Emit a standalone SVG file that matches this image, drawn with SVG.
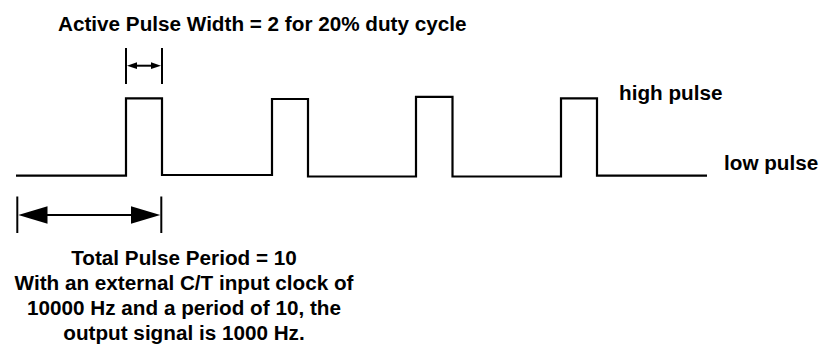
<svg xmlns="http://www.w3.org/2000/svg" width="820" height="348" viewBox="0 0 820 348">
<style>
  .t { font-family: "Liberation Sans", Arial, sans-serif; font-weight: bold; font-size: 20.7px; fill: #000; }
  .w { fill: none; stroke: #000; stroke-width: 2.2; stroke-linejoin: miter; }
  .d { fill: none; stroke: #000; stroke-width: 2; }
  .h { fill: #000; stroke: none; }
</style>
<rect width="820" height="348" fill="#fff"/>
<g id="waveform">
  <polyline class="w" points="16,175.7 126,175.7 126,98.3 162,98.3 162,175 272,175 272,99 308,99 308,176.5 416,176.5 416,96.8 452.5,96.8 452.5,176.5 561,176.5 561,98.3 597,98.3 597,175.7 707,175.7"/>
</g>
<g id="connectors">
  <g id="active-width">
    <line class="d" x1="126" y1="48" x2="126" y2="84"/>
    <line class="d" x1="162" y1="48" x2="162" y2="84"/>
    <line class="d" x1="135" y1="65.7" x2="153" y2="65.7"/>
    <polygon class="h" points="127,65.7 137,62.3 137,69.1"/>
    <polygon class="h" points="161,65.7 151,62.3 151,69.1"/>
  </g>
  <g id="total-period">
    <line class="d" x1="17.3" y1="196.5" x2="17.3" y2="233"/>
    <line class="d" x1="161.3" y1="196.5" x2="161.3" y2="233"/>
    <line class="d" x1="45" y1="215" x2="133" y2="215"/>
    <polygon class="h" points="18.3,215 47.5,206.2 47.5,223.8"/>
    <polygon class="h" points="160.3,215 131,206.2 131,223.8"/>
  </g>
</g>
<g id="title-label">
  <text class="t" x="58" y="31">Active Pulse Width = 2 for 20% duty cycle</text>
</g>
<g id="high-label">
  <text class="t" x="619" y="100">high pulse</text>
</g>
<g id="low-label">
  <text class="t" x="724" y="170">low pulse</text>
</g>
<g id="period-label">
  <text class="t" text-anchor="middle" x="184" y="265">Total Pulse Period = 10</text>
  <text class="t" text-anchor="middle" x="184" y="290">With an external C/T input clock of</text>
  <text class="t" text-anchor="middle" x="184" y="315">10000 Hz and a period of 10, the</text>
  <text class="t" text-anchor="middle" x="184" y="340">output signal is 1000 Hz.</text>
</g>
</svg>
